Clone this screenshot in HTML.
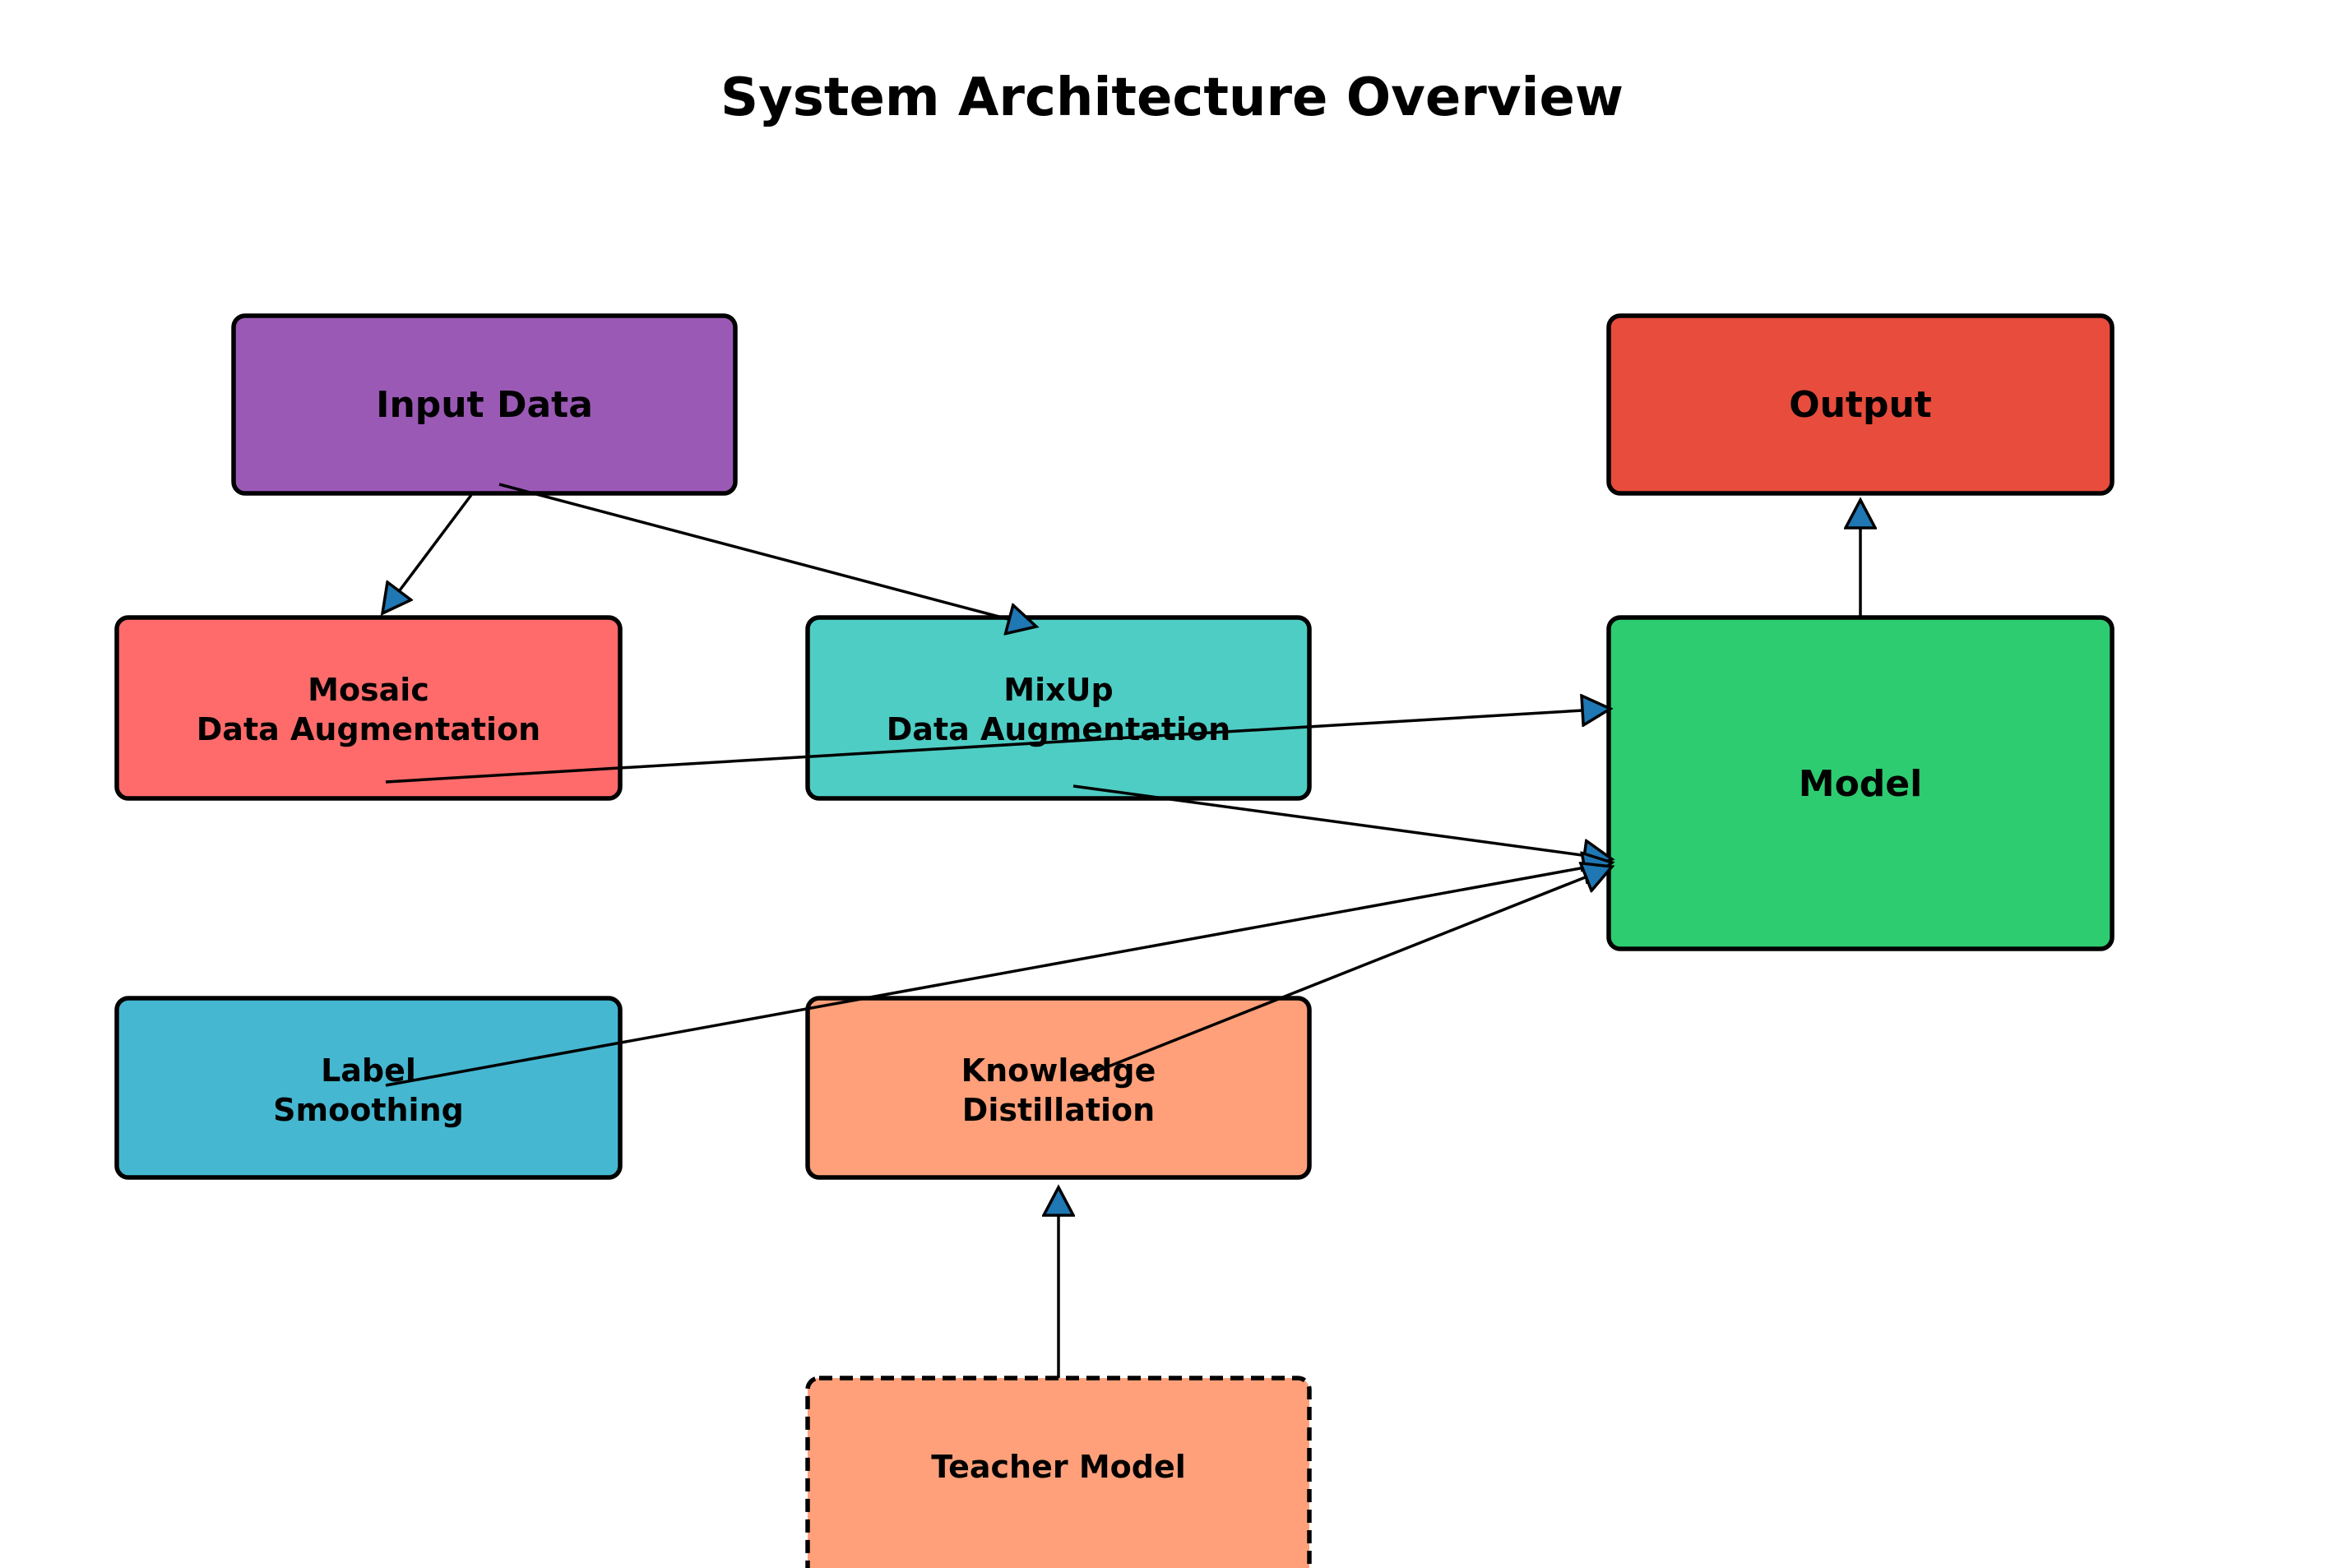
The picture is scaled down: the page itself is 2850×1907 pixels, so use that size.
<!DOCTYPE html>
<html><head><meta charset="utf-8"><style>
html,body{margin:0;padding:0;background:#fff;}
svg{display:block;}
text{font-family:"DejaVu Sans","Liberation Sans",sans-serif;font-weight:bold;fill:#000;text-anchor:middle;}
</style></head><body>
<svg width="2850" height="1907" viewBox="0 0 2850 1907" xmlns="http://www.w3.org/2000/svg">
<defs>
<marker id="ah" markerUnits="userSpaceOnUse" markerWidth="40" markerHeight="40" viewBox="-2 -2 40 40" refX="34" refY="18" orient="auto">
<path d="M0,0 L34,18 L0,36 z" fill="#1f77b4" stroke="#000" stroke-width="3.5" stroke-linejoin="miter"/>
</marker>
</defs>
<text x="1425" y="140" font-size="64">System Architecture Overview</text>
<g stroke="#000" stroke-width="5.5">
<rect x="284" y="384" width="610" height="216" rx="14" fill="#9b59b6"/>
<rect x="1956" y="384" width="612" height="216" rx="14" fill="#e74c3c"/>
<rect x="142" y="751" width="612" height="220" rx="14" fill="#ff6b6b"/>
<rect x="982" y="751" width="610" height="220" rx="14" fill="#4ecdc4"/>
<rect x="1956" y="751" width="612" height="403" rx="14" fill="#2ecc71"/>
<rect x="142" y="1214" width="612" height="218" rx="14" fill="#45b7d1"/>
<rect x="982" y="1214" width="610" height="218" rx="14" fill="#ffa07a"/>
<rect x="982" y="1676" width="610" height="300" rx="14" fill="#ffa07a" stroke-dasharray="16,9"/>
</g>
<text x="589" y="507" font-size="44">Input Data</text>
<text x="2262" y="507" font-size="44">Output</text>
<text x="2262" y="968" font-size="44">Model</text>
<text x="448" y="852" font-size="38">Mosaic</text>
<text x="448" y="900" font-size="38">Data Augmentation</text>
<text x="1287" y="852" font-size="38">MixUp</text>
<text x="1287" y="900" font-size="38">Data Augmentation</text>
<text x="448" y="1315" font-size="38">Label</text>
<text x="448" y="1363" font-size="38">Smoothing</text>
<text x="1287" y="1315" font-size="38">Knowledge</text>
<text x="1287" y="1363" font-size="38">Distillation</text>
<text x="1287" y="1797" font-size="38">Teacher Model</text>
<g stroke="#000" stroke-width="3.5" fill="none" marker-end="url(#ah)">
<line x1="573" y1="602" x2="465" y2="746"/>
<line x1="607" y1="589" x2="1260" y2="762"/>
<line x1="469" y1="951" x2="1958" y2="862"/>
<line x1="1305" y1="956" x2="1960" y2="1045"/>
<line x1="469" y1="1320" x2="1960" y2="1049"/>
<line x1="1305" y1="1314" x2="1960" y2="1054"/>
<line x1="1287" y1="1676" x2="1287" y2="1444"/>
<line x1="2262" y1="749" x2="2262" y2="608"/>
</g>
</svg>
</body></html>
